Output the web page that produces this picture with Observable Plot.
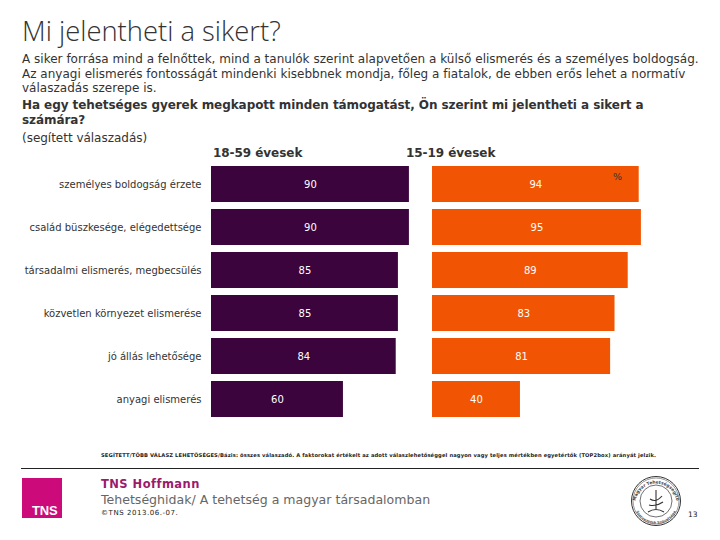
<!DOCTYPE html>
<html lang="hu">
<head>
<meta charset="utf-8">
<script src="https://cdn.jsdelivr.net/npm/d3@7"></script>
<script src="https://cdn.jsdelivr.net/npm/@observablehq/plot@0.6"></script>
<style>
html,body{margin:0;padding:0;background:#fff;}
#page{position:relative;width:720px;height:540px;overflow:hidden;font-family:"DejaVu Sans",sans-serif;color:#333;}
#page>div{position:absolute;white-space:nowrap;}
#chart{left:0;top:140px;}
#chart svg{display:block;background:transparent;}
.rule{left:21px;top:468px;width:678px;height:1px;background:#222;}
</style>
</head>
<body>
<div id="page">
  <div style="left:22px;top:12px;font-size:27.4px;font-weight:300;font-family:'Open Sans',sans-serif;color:#333;">Mi jelentheti a sikert?</div>
  <div style="left:22px;top:52px;font-size:12px;line-height:14.7px;letter-spacing:0.015px;">A siker forrása mind a felnőttek, mind a tanulók szerint alapvetően a külső elismerés és a személyes boldogság.<br>Az anyagi elismerés fontosságát mindenki kisebbnek mondja, főleg a fiatalok, de ebben erős lehet a normatív<br>válaszadás szerepe is.</div>
  <div style="left:22px;top:98px;font-size:12px;line-height:15px;font-weight:bold;letter-spacing:-0.07px;color:#333;">Ha egy tehetséges gyerek megkapott minden támogatást, Ön szerint mi jelentheti a sikert a<br>számára?</div>
  <div style="left:22px;top:131px;font-size:12px;letter-spacing:-0.02px;">(segített válaszadás)</div>
  <div style="left:213px;top:146px;font-size:12px;font-weight:bold;letter-spacing:-0.05px;">18-59 évesek</div>
  <div style="left:406px;top:146px;font-size:12px;font-weight:bold;letter-spacing:-0.05px;">15-19 évesek</div>
  <div id="chart"></div>
  <div style="left:613px;top:171px;font-size:9.5px;">%</div>
  <div style="left:101px;top:452px;font-size:5.2px;font-weight:bold;color:#222;letter-spacing:0.12px;">SEGÍTETT/TÖBB VÁLASZ LEHETŐSÉGES/Bázis: összes válaszadó. A faktorokat értékelt az adott válaszlehetőséggel nagyon vagy teljes mértékben egyetértők (TOP2box) arányát jelzik.</div>
  <div class="rule"></div>
  <div style="left:22px;top:478px;width:40px;height:40px;background:#cc0a7a;"></div>
  <div style="left:32px;top:503px;font-size:13px;font-weight:bold;color:#fff;font-family:'Liberation Sans',sans-serif;letter-spacing:-0.2px;">TNS</div>
  <div style="left:101px;top:477px;font-size:11.5px;font-weight:bold;color:#9c1a6a;letter-spacing:0.45px;">TNS Hoffmann</div>
  <div style="left:101px;top:492px;font-size:12.55px;color:#666;">Tehetséghidak/ A tehetség a magyar társadalomban</div>
  <div style="left:101px;top:509px;font-size:7px;color:#222;letter-spacing:0.55px;">©TNS  2013.06.-07.</div>
  <div style="left:688px;top:510px;font-size:7.5px;color:#222;">13</div>
  <div style="left:630px;top:475px;">
    <svg width="54" height="54" viewBox="0 0 54 54" fill="none" stroke="#333">
      <defs>
        <path id="sealTop" d="M5.5 29A20 20 0 0 1 46.5 29"/>
        <path id="sealBottom" d="M4 31A22.5 22.5 0 0 0 48 31"/>
      </defs>
      <circle cx="26" cy="26" r="24.5" stroke-width="1"/>
      <circle cx="26" cy="26" r="23" stroke-width="0.5"/>
      <circle cx="26" cy="26" r="16" stroke-width="0.7"/>
      <text font-family="DejaVu Sans" font-size="4.4" font-weight="bold" fill="#444" stroke="none"><textPath href="#sealTop" startOffset="50%" text-anchor="middle">Magyar Tehetségsegítő</textPath></text>
      <text font-family="DejaVu Sans" font-size="3.6" font-weight="bold" fill="#555" stroke="none"><textPath href="#sealBottom" startOffset="50%" text-anchor="middle">Szervezetek Szövetsége</textPath></text>
      <path d="M26 15V35M20 24Q26 28 32 21M19 30Q26 32 33 27M18 37Q26 32 34 37" stroke-width="1.1"/>
    </svg>
  </div>
</div>
<script>
const categories = ["személyes boldogság érzete","család büszkesége, elégedettsége","társadalmi elismerés, megbecsülés","közvetlen környezet elismerése","jó állás lehetősége","anyagi elismerés"];
const adults = [90,90,85,85,84,60];
const youth = [94,95,89,83,81,40];
const groups = ["18-59 évesek","15-19 évesek"];
const rows = [
  ...categories.map((c,i)=>({group:groups[0],cat:c,v:adults[i]})),
  ...categories.map((c,i)=>({group:groups[1],cat:c,v:youth[i]}))
];
const chart = Plot.plot({
  width:720,height:290,
  marginLeft:211,marginRight:67,marginTop:25,marginBottom:12,
  style:{fontFamily:"'DejaVu Sans',sans-serif",fontSize:"10px",background:"transparent",color:"#333"},
  fx:{domain:groups,padding:0,axis:null},
  x:{domain:[0,100.5],axis:null},
  y:{domain:categories,label:null,tickSize:0,tickPadding:10,paddingInner:0.17,paddingOuter:0},
  color:{domain:groups,range:["#3b043c","#f15504"]},
  marks:[
    Plot.barX(rows,{fx:"group",y:"cat",x:"v",fill:"group"}),
    Plot.text(rows,{fx:"group",y:"cat",x:d=>d.v/2,text:"v",fill:"#fff",fontSize:10})
  ]
});
document.getElementById("chart").appendChild(chart);
</script>
</body>
</html>
